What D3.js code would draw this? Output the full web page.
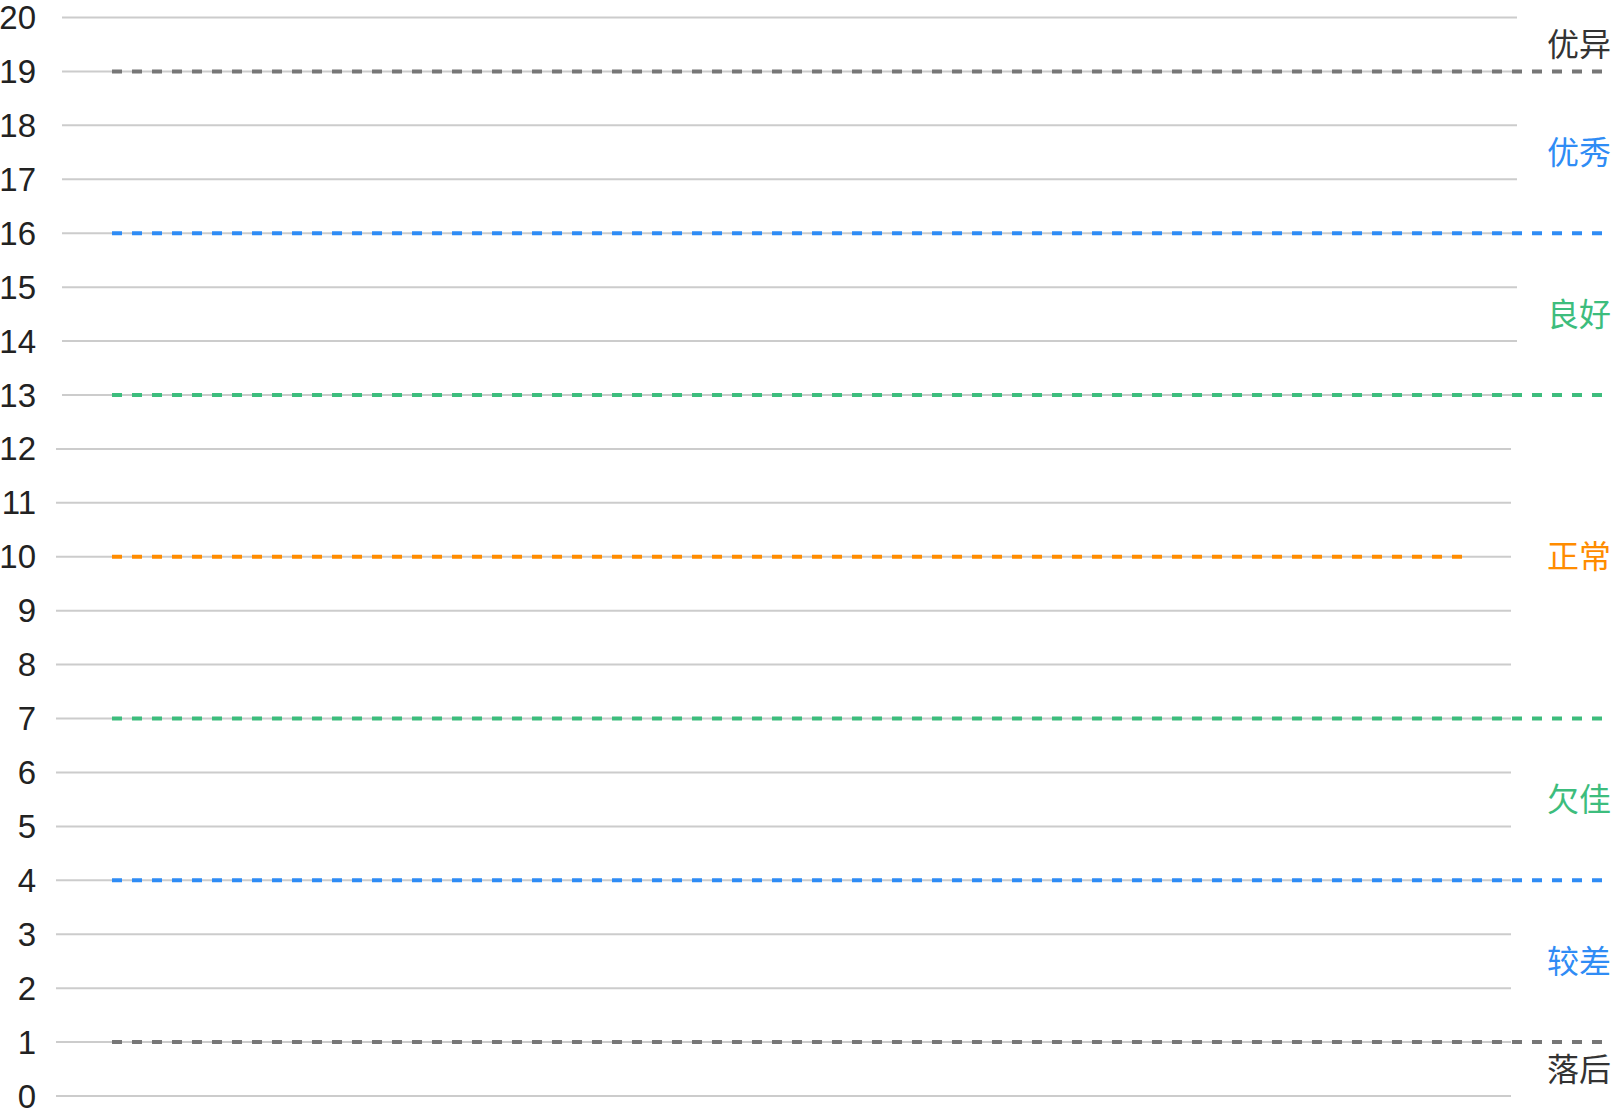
<!DOCTYPE html>
<html><head><meta charset="utf-8">
<script src="https://cdn.jsdelivr.net/npm/d3@7"></script>
<style>html,body{margin:0;padding:0;background:#fff;}svg{display:block;}</style>
</head><body>
<svg id="chart" width="1612" height="1112"></svg>
<script>
// ---- data ----
const yTicks = [0,1,2,3,4,5,6,7,8,9,10,11,12,13,14,15,16,17,18,19,20];
const thresholds = [1, 4, 7, 10, 13, 16, 19];
const thresholdColors = ["#777777", "#2f8cf5", "#3dbd7d", "#ff8c00", "#3dbd7d", "#2f8cf5", "#777777"];
const bandNames = ["落后", "较差", "欠佳", "正常", "良好", "优秀", "优异"];
const bandLow = [0, 1, 4, 7, 13, 16, 19];
const bandHigh = [1, 4, 7, 13, 16, 19, 20];
const bandColors = ["#333333", "#2f8cf5", "#3dbd7d", "#ff8c00", "#3dbd7d", "#2f8cf5", "#333333"];

// ---- layout ----
const svg = d3.select("#chart");
const y = d3.scaleLinear().domain([0, 20]).range([1096, 17.5]);
const font = "'Liberation Sans', 'Noto Sans CJK SC', sans-serif";
const cjk = "'Noto Sans CJK SC', sans-serif";

// gridlines (two groups with slightly different extents, as in reference)
svg.append("g").selectAll("line").data(yTicks).join("line")
  .attr("x1", d => d >= 13 ? 62 : 56)
  .attr("x2", d => d >= 13 ? 1517 : 1511)
  .attr("y1", d => y(d)).attr("y2", d => y(d))
  .attr("stroke", "#cccccc").attr("stroke-width", 2);

// axis tick labels
svg.append("g").selectAll("text").data(yTicks).join("text")
  .attr("x", 36).attr("y", d => y(d))
  .attr("dy", "0.35em")
  .attr("text-anchor", "end")
  .attr("font-family", font).attr("font-size", 33)
  .attr("fill", "#222")
  .text(d => d);

// threshold dashed lines
svg.append("g").selectAll("line").data(thresholds).join("line")
  .attr("x1", 112)
  .attr("x2", (d, i) => thresholdColors[i] === "#ff8c00" ? 1462 : 1602)
  .attr("y1", d => y(d)).attr("y2", d => y(d))
  .attr("stroke", (d, i) => thresholdColors[i])
  .attr("stroke-width", 4)
  .attr("stroke-dasharray", "10,10");

// band labels
svg.append("g").selectAll("text").data(bandNames).join("text")
  .attr("x", 1611)
  .attr("y", (d, i) => y((bandLow[i] + bandHigh[i]) / 2))
  .attr("dy", "0.36em")
  .attr("text-anchor", "end")
  .attr("font-family", cjk).attr("font-size", 32)
  .attr("fill", (d, i) => bandColors[i])
  .text(d => d);
</script>
</body></html>
